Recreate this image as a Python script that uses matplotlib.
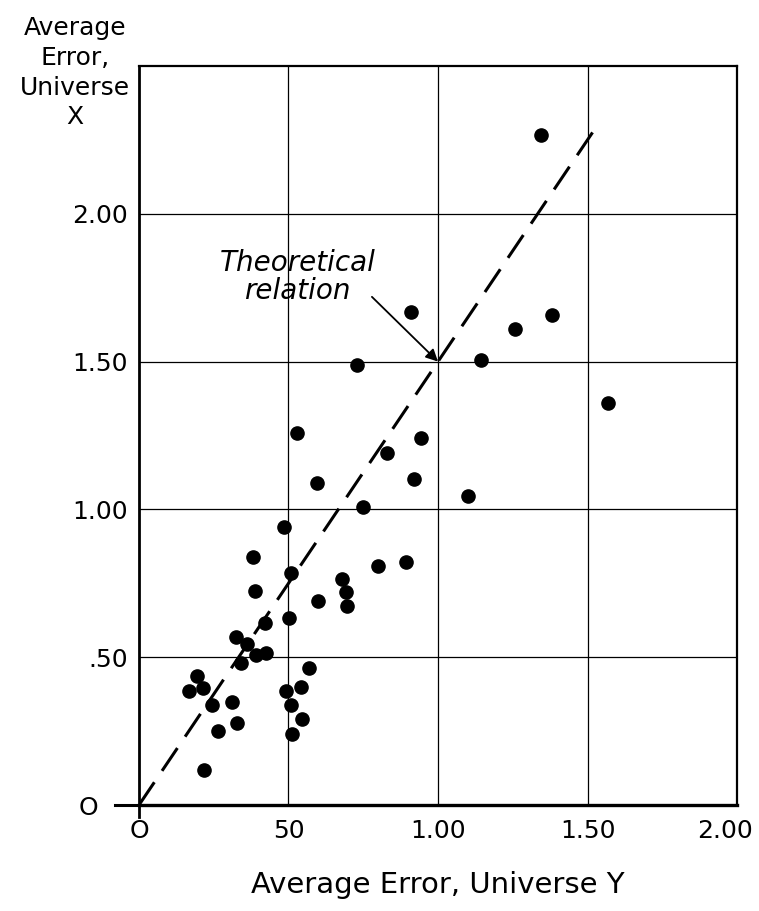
import matplotlib
matplotlib.use("Agg")
import matplotlib.pyplot as plt
import matplotlib.transforms as mtransforms
import numpy as np

# average error, universe Y (x) and universe X (y)
err_y = [1.343, 0.909, 1.382, 1.256, 1.144, 1.570, 0.943, 0.828, 0.920, 1.101,
         0.893, 0.800, 0.728, 0.527, 0.596, 0.748, 0.486, 0.382, 0.507, 0.678,
         0.692, 0.389, 0.598, 0.694, 0.503, 0.421, 0.324, 0.362, 0.391, 0.425,
         0.340, 0.195, 0.213, 0.168, 0.569, 0.541, 0.492, 0.310, 0.243, 0.507,
         0.327, 0.544, 0.265, 0.511, 0.218]
err_x = [2.266, 1.669, 1.659, 1.609, 1.506, 1.361, 1.242, 1.190, 1.102, 1.046,
         0.823, 0.809, 1.489, 1.260, 1.091, 1.007, 0.939, 0.838, 0.784, 0.765,
         0.722, 0.724, 0.691, 0.674, 0.634, 0.615, 0.567, 0.545, 0.508, 0.515,
         0.481, 0.437, 0.397, 0.386, 0.462, 0.400, 0.386, 0.350, 0.338, 0.340,
         0.279, 0.291, 0.251, 0.240, 0.118]

# theoretical relation: X error = 1.5 * Y error
theory_x = [0.0, 1.52]
slope = 1.5

xticks = [0, 0.5, 1.0, 1.5, 2.0]
xtick_labels = ["O", "50", "1.00", "1.50", "2.00"]
yticks = [0, 0.5, 1.0, 1.5, 2.0]
ytick_labels = ["O", ".50", "1.00", "1.50", "2.00"]

fig = plt.figure(figsize=(7.59, 9.11), dpi=100)
ax = fig.add_axes([0.1831, 0.1163, 0.788, 0.8113])

ax.set_xlim(0, 2.0)
ax.set_ylim(0, 2.5)

for v in [0.5, 1.0, 1.5]:
    ax.axvline(v, color="black", lw=0.9, zorder=1)
for v in [0.5, 1.0, 1.5, 2.0]:
    ax.axhline(v, color="black", lw=0.9, zorder=1)

# little extensions of the axes past the origin
ax.axhline(0, xmin=-0.04, xmax=0, color="black", lw=2.2, clip_on=False)
ax.axvline(0, ymin=-0.016, ymax=0, color="black", lw=2.0, clip_on=False)

tx = np.array(theory_x)
ax.plot(tx, slope * tx, color="black", lw=2.2, dashes=(9, 4.5), zorder=2)

ax.plot(err_y, err_x, "o", color="black", ms=9.5, zorder=3)

ax.text(0.53, 1.787, "Theoretical\nrelation", ha="center", va="center",
        fontsize=20, style="italic", linespacing=1.0)
ax.annotate("", xy=(1.0, 1.5), xytext=(0.779, 1.719),
            arrowprops=dict(arrowstyle="-|>", color="black", lw=1.3,
                            mutation_scale=18, shrinkA=0, shrinkB=0))

for s in ax.spines.values():
    s.set_linewidth(1.6)
ax.spines["bottom"].set_linewidth(2.4)
ax.spines["left"].set_linewidth(2.0)

ax.set_xticks(xticks)
ax.set_xticklabels(xtick_labels, fontsize=18)
ax.set_yticks(yticks)
ax.set_yticklabels(ytick_labels, fontsize=18)
ax.tick_params(length=0, pad=8)
ax.tick_params(axis="x", pad=10)

# nudge the end labels like the hand-lettered original
lab = ax.get_xticklabels()[-1]
lab.set_transform(lab.get_transform() + mtransforms.ScaledTranslation(-0.12, 0, fig.dpi_scale_trans))
lab = ax.get_yticklabels()[0]
lab.set_transform(lab.get_transform() + mtransforms.ScaledTranslation(-0.3, 0, fig.dpi_scale_trans))

fig.text(0.099, 0.92, "Average\nError,\nUniverse\nX", ha="center", va="center",
         fontsize=18, linespacing=1.3)
ax.set_xlabel("Average Error, Universe Y", fontsize=21, labelpad=20)

fig.savefig("out.png", dpi=100)
